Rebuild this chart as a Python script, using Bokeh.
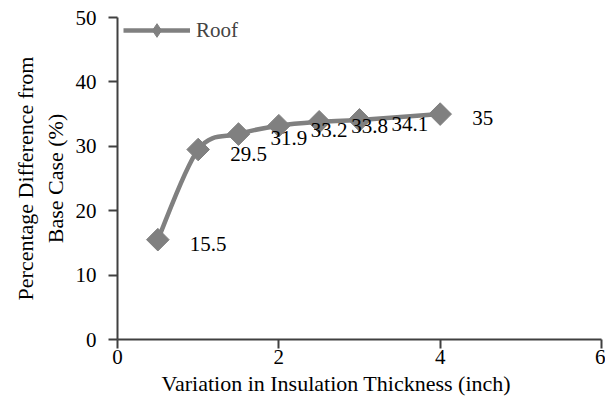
import numpy as np
from bokeh.plotting import figure
from bokeh.models import Range1d, FixedTicker, Legend, LegendItem, ColumnDataSource, Title
from bokeh.core.properties import value
from bokeh.embed import file_html
from bokeh.resources import INLINE

# data
thickness = [0.5, 1.0, 1.5, 2.0, 2.5, 3.0, 4.0]
roof = [15.5, 29.5, 31.9, 33.2, 33.8, 34.1, 35.0]
labels = ["15.5", "29.5", "31.9", "33.2", "33.8", "34.1", "35"]
x_ticks = [0, 2, 4, 6]
y_ticks = [0, 10, 20, 30, 40, 50]

FONT = "Liberation Serif"
GRAY = "#808080"
AXC = "#404040"

p = figure(width=605, height=402, output_backend="svg", toolbar_location=None,
           x_range=Range1d(0, 6), y_range=Range1d(0, 50),
           min_border_left=117, min_border_right=4, min_border_top=17, min_border_bottom=63)
p.grid.visible = False
p.outline_line_color = None
p.background_fill_color = "white"
p.border_fill_color = "white"

for ax in (p.xaxis[0], p.yaxis[0]):
    ax.axis_line_color = AXC
    ax.axis_line_width = 2
    ax.major_tick_line_color = AXC
    ax.major_tick_line_width = 2
    ax.major_tick_out = 9
    ax.major_tick_in = 0
    ax.minor_tick_line_color = None
    ax.major_label_text_font = FONT
    ax.major_label_text_font_size = "21px"
    ax.major_label_text_color = "black"
    ax.axis_label_text_font = FONT
    ax.axis_label_text_font_size = "22px"
    ax.axis_label_text_font_style = "normal"
    ax.axis_label_text_color = "black"

p.xaxis.ticker = FixedTicker(ticks=x_ticks)
p.yaxis.ticker = FixedTicker(ticks=y_ticks)
p.yaxis.axis_label = "Percentage Difference from\nBase Case (%)"
p.xaxis.major_label_standoff = 1
p.yaxis.major_label_standoff = 12
p.yaxis.axis_label_standoff = 5

xtitle = Title(text="Variation in Insulation Thickness (inch)", align="left", offset=44,
               text_font=FONT, text_font_size="22px", text_font_style="normal",
               text_color="black", standoff=4)
p.add_layout(xtitle, "below")

# smooth curve (Catmull-Rom -> Bezier) from the data points
xs = np.array(thickness, dtype=float)
ys = np.array(roof, dtype=float)
n = len(xs)
xp = np.concatenate([[xs[0]], xs, [xs[-1]]])
yp = np.concatenate([[ys[0]], ys, [ys[-1]]])
x0 = xs[:-1]; y0 = ys[:-1]; x1 = xs[1:]; y1 = ys[1:]
cx0 = xp[1:n] + (xp[2:n+1] - xp[0:n-1]) / 6
cy0 = yp[1:n] + (yp[2:n+1] - yp[0:n-1]) / 6
cx1 = xp[2:n+1] - (xp[3:n+2] - xp[1:n]) / 6
cy1 = yp[2:n+1] - (yp[3:n+2] - yp[1:n]) / 6
curve = p.bezier(x0=x0, y0=y0, x1=x1, y1=y1, cx0=cx0, cy0=cy0, cx1=cx1, cy1=cy1,
                 line_color=GRAY, line_width=4.5)

src = ColumnDataSource(dict(x=thickness, y=roof, t=labels, a=[np.pi / 4] * len(thickness)))
# small diamonds hidden under the main markers, used for the legend symbol
leg_mk = p.scatter("x", "y", source=src, marker="diamond", size=12,
                   fill_color=GRAY, line_color=GRAY)
mk = p.scatter("x", "y", source=src, marker="square", size=16, angle="a",
               fill_color=GRAY, line_color=GRAY)
p.text("x", "y", text="t", source=src, x_offset=32, y_offset=4,
       text_font=value(FONT), text_font_size="21px", text_color="black",
       text_align="left", text_baseline="middle")

legend = Legend(items=[LegendItem(label="Roof", renderers=[curve, leg_mk])],
                location=(6, 292), glyph_width=67, glyph_height=34,
                padding=0, margin=0, spacing=0, label_standoff=6,
                label_text_font=FONT, label_text_font_size="21px",
                border_line_color=None, background_fill_alpha=0)
p.add_layout(legend)

open("out.html", "w").write(file_html(p, INLINE))
